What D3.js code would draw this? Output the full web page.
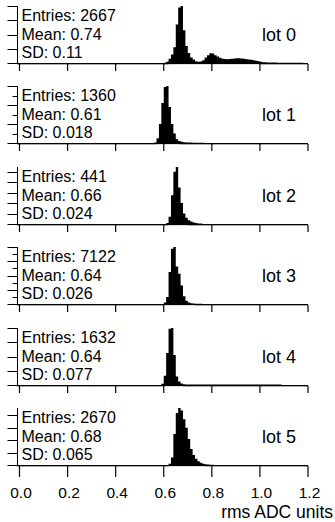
<!DOCTYPE html>
<meta charset="utf-8">
<script src="https://cdn.jsdelivr.net/npm/d3@7"></script>
<style>
    body { margin: 0; background: #fff; }
    text { font-family: "Liberation Sans", Arial, Helvetica, sans-serif; fill: #000; }
</style>
<body>
<script>
// chart values
var lotNames = ["lot 0", "lot 1", "lot 2", "lot 3", "lot 4", "lot 5"];
var entries = [2667, 1360, 441, 7122, 1632, 2670];
var means = ["0.74", "0.61", "0.66", "0.64", "0.64", "0.68"];
var sds = ["0.11", "0.018", "0.024", "0.026", "0.077", "0.065"];
var xTicks = [0.0, 0.2, 0.4, 0.6, 0.8, 1.0, 1.2];
var xTickLabels = ["0.0", "0.2", "0.4", "0.6", "0.8", "1.0", "1.2"];
var xLabel = "rms ADC units";

// histogram bins (width 0.01), first bin edge per lot
var binWidth = 0.01;
var binStart = [0.60, 0.56, 0.61, 0.60, 0.59, 0.62];
var counts0 = [2, 8, 30, 60, 110, 270, 390, 400, 230, 120, 70, 38, 25, 12, 8, 10, 20, 38, 55, 68,
    66, 55, 45, 36, 30, 28, 27, 28, 30, 32, 33, 34, 32, 30, 27, 24, 22, 20, 16, 12,
    9, 6, 5, 4, 4, 3, 3, 2, 2, 2, 2, 1, 1, 1, 1, 1, 1, 1];
var counts1 = [3, 25, 100, 210, 295, 300, 190, 100, 50, 20, 10, 6, 4, 3, 2, 2, 1, 1, 1, 1, 1];
var counts2 = [2, 14, 55, 100, 109, 70, 40, 20, 12, 7, 5, 3, 2, 1, 1];
var counts3 = [40, 200, 900, 1550, 1600, 1050, 850, 520, 220, 90, 40, 20, 12, 8, 5, 4, 3, 2, 2, 1];
var counts4 = [8, 65, 225, 395, 400, 210, 60, 25, 10, 6, 4, 3, 3, 3, 3, 3, 3, 3, 3, 3,
    3, 3, 3, 3, 3, 3, 3, 3, 3, 3, 3, 3, 3, 3, 3, 3, 3, 3, 3, 3, 3, 3, 3, 3, 3, 3, 3, 3, 3, 3];
var counts5 = [10, 60, 250, 420, 460, 440, 370, 300, 210, 130, 80, 50, 30, 18, 10, 6, 4, 3, 2, 1];
var allCounts = [counts0, counts1, counts2, counts3, counts4, counts5];

// y tick spacing (minor / major) per lot
var yTickStep = [100, 50, 20, 200, 100, 100];
var yMajorStep = [100, 100, 20, 400, 100, 100];

var width = 335, height = 522;
var axisX = 17.5;
var firstBase = 63, pitch = 80.4, plotH = 57;

var svg = d3.select("body").append("svg")
    .attr("width", width)
    .attr("height", height);

var x = d3.scaleLinear().domain([0, 1.2]).range([19.5, 308]);

lotNames.forEach(function (name, i) {
    var base = Math.round(firstBase + pitch * i);
    var counts = allCounts[i];
    var ymax = d3.max(counts);
    var y = d3.scaleLinear().domain([0, ymax]).range([base, base - plotH]);
    var g = svg.append("g");

    // histogram as steps
    var pts = counts.map(function (c, k) { return [binStart[i] + k * binWidth, c]; });
    var last = binStart[i] + counts.length * binWidth;
    pts.push([last, 0]);
    var area = d3.area()
        .x(function (d) { return x(d[0]); })
        .y0(y(0))
        .y1(function (d) { return y(d[1]); })
        .curve(d3.curveStepAfter);
    g.append("path")
        .attr("d", area(pts))
        .attr("fill", "#000");

    // baseline: black line with grey line under it
    g.append("line")
        .attr("x1", axisX).attr("x2", x(1.2))
        .attr("y1", base + 0.5).attr("y2", base + 0.5)
        .attr("stroke", "#000").attr("stroke-width", 1);
    g.append("line")
        .attr("x1", axisX).attr("x2", x(1.2))
        .attr("y1", base + 1.5).attr("y2", base + 1.5)
        .attr("stroke", "#555").attr("stroke-width", 1)
        .attr("stroke-dasharray", "1,1");
    var nz = counts.map(function (c, k) { return c >= 10 ? k : -1; }).filter(function (k) { return k >= 0; });
    g.append("line")
        .attr("x1", x(binStart[i] + d3.min(nz) * binWidth))
        .attr("x2", x(binStart[i] + (d3.max(nz) + 1) * binWidth))
        .attr("y1", base + 1.5).attr("y2", base + 1.5)
        .attr("stroke", "#ddd").attr("stroke-width", 1);

    // y axis (ticks only)
    g.append("line")
        .attr("x1", axisX).attr("x2", axisX)
        .attr("y1", base - plotH).attr("y2", base + 1)
        .attr("stroke", "#000").attr("stroke-width", 1);
    var yt = d3.range(0, ymax + 0.001, yTickStep[i]);
    g.selectAll(".ytick")
        .data(yt)
        .enter().append("line")
        .attr("x1", function (d) { return d % yMajorStep[i] === 0 ? axisX - 10 : axisX - 5; })
        .attr("x2", axisX)
        .attr("y1", function (d) { return Math.round(y(d)) + 0.5; })
        .attr("y2", function (d) { return Math.round(y(d)) + 0.5; })
        .attr("stroke", "#000").attr("stroke-width", 1);

    // x ticks below baseline
    var tlen = i === lotNames.length - 1 ? 11 : 7;
    g.selectAll(".xtick")
        .data(xTicks)
        .enter().append("line")
        .attr("x1", function (d) { return x(d); })
        .attr("x2", function (d) { return x(d); })
        .attr("y1", base + 1).attr("y2", base + 1 + tlen)
        .attr("stroke", "#000").attr("stroke-width", 1.2);

    // stats box text
    var stats = ["Entries: " + entries[i], "Mean: " + means[i], "SD: " + sds[i]];
    var offs = [-42, -23.5, -5];
    g.selectAll(".stat")
        .data(stats)
        .enter().append("text")
        .attr("x", 21.5)
        .attr("y", function (d, k) { return base + offs[k]; })
        .style("font-size", "16px")
        .text(function (d) { return d; });

    g.append("text")
        .attr("x", 262)
        .attr("y", base - 22)
        .style("font-size", "18px")
        .text(name);
});

// bottom tick labels and axis title
var lastBase = Math.round(firstBase + pitch * (lotNames.length - 1));
svg.selectAll(".xlab")
    .data(xTicks)
    .enter().append("text")
    .attr("x", function (d) { return x(d) + 1.5; })
    .attr("y", lastBase + 33)
    .attr("text-anchor", "middle")
    .style("font-size", "15.5px")
    .text(function (d, k) { return xTickLabels[k]; });

svg.append("text")
    .attr("x", 333)
    .attr("y", lastBase + 53)
    .attr("text-anchor", "end")
    .style("font-size", "17.5px")
    .text(xLabel);
</script>
</body>
